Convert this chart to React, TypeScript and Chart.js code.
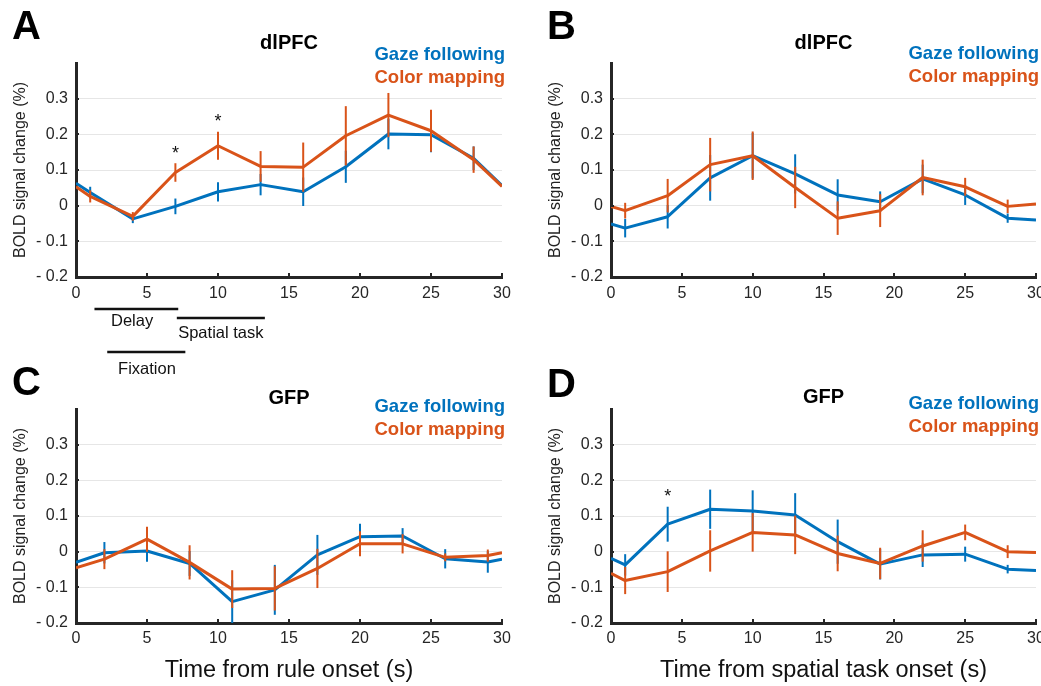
import React, { useEffect, useRef } from 'react';
import { Chart, registerables } from 'chart.js';

Chart.register(...registerables);

const FONT = '"Liberation Sans", Arial, Helvetica, sans-serif';
const BLUE = '#0072BD';
const ORANGE = '#D95319';
const AXIS = '#262626';

// ---- data ----
const seriesNames = ['Gaze following', 'Color mapping'];
const yTicks = [-0.2, -0.1, 0, 0.1, 0.2, 0.3, 0.4];
const yTickLabels = ['- 0.2', '- 0.1', '0', '0.1', '0.2', '0.3', ''];
const xTicks = [0, 5, 10, 15, 20, 25, 30];
const xTickLabels = ['0', '5', '10', '15', '20', '25', '30'];

// Panel A: dlPFC, rule onset
const timesA = [0, 1, 4, 7, 10, 13, 16, 19, 22, 25, 28, 30];
const gazeA = [0.063, 0.037, -0.037, -0.002, 0.039, 0.059, 0.039, 0.109, 0.201, 0.199, 0.133, 0.056];
const gazeErrA = [null, 0.016, 0.012, 0.022, 0.027, 0.03, 0.04, 0.045, 0.043, 0.049, 0.033, null];
const colorA = [0.053, 0.026, -0.03, 0.093, 0.168, 0.11, 0.108, 0.196, 0.254, 0.21, 0.129, 0.054];
const colorErrA = [null, 0.017, 0.012, 0.026, 0.039, 0.043, 0.069, 0.083, 0.062, 0.059, 0.037, null];
const starsAx = [7, 10];
const starsAy = [0.16, 0.248];

// Panel B: dlPFC, spatial task onset
const timesB = [0, 1, 4, 7, 10, 13, 16, 19, 22, 25, 28, 30];
const gazeB = [-0.051, -0.063, -0.031, 0.078, 0.14, 0.089, 0.03, 0.011, 0.075, 0.03, -0.035, -0.04];
const gazeErrB = [null, 0.026, 0.033, 0.064, 0.064, 0.055, 0.044, 0.029, 0.04, 0.028, 0.013, null];
const colorB = [-0.002, -0.014, 0.028, 0.115, 0.14, 0.051, -0.035, -0.014, 0.079, 0.053, -0.002, 0.005];
const colorErrB = [null, 0.022, 0.047, 0.075, 0.068, 0.058, 0.047, 0.046, 0.05, 0.025, 0.019, null];

// Panel C: GFP, rule onset
const timesC = [0, 2, 5, 8, 11, 14, 17, 20, 23, 26, 29, 30];
const gazeC = [-0.03, -0.003, 0.002, -0.033, -0.14, -0.107, -0.009, 0.042, 0.044, -0.02, -0.029, -0.021];
const gazeErrC = [null, 0.03, 0.03, 0.035, 0.06, 0.07, 0.056, 0.036, 0.022, 0.027, 0.03, null];
const colorC = [-0.045, -0.021, 0.035, -0.03, -0.105, -0.103, -0.047, 0.022, 0.022, -0.016, -0.011, -0.003];
const colorErrC = [null, 0.028, 0.035, 0.048, 0.053, 0.062, 0.055, 0.035, 0.027, 0.011, 0.017, null];

// Panel D: GFP, spatial task onset
const timesD = [0, 1, 4, 7, 10, 13, 16, 19, 22, 25, 28, 30];
const gazeD = [-0.019, -0.037, 0.077, 0.119, 0.114, 0.103, 0.028, -0.035, -0.009, -0.007, -0.049, -0.053];
const gazeErrD = [null, 0.03, 0.049, 0.055, 0.058, 0.061, 0.062, 0.043, 0.034, 0.021, 0.012, null];
const colorD = [-0.061, -0.081, -0.056, 0.002, 0.054, 0.047, -0.005, -0.033, 0.016, 0.054, 0, -0.002];
const colorErrD = [null, 0.038, 0.057, 0.058, 0.054, 0.054, 0.05, 0.044, 0.044, 0.022, 0.018, null];
const starsDx = [4];
const starsDy = [0.166];

// Trial phases shown under panel A (seconds)
const phaseLabels = ['Delay', 'Spatial task', 'Fixation'];
const phaseStart = [1.3, 7.1, 2.2];
const phaseEnd = [7.2, 13.3, 7.7];
const phaseLabelX = [3.95, 10.2, 5.0];

type PanelCfg = {
  letter: string;
  title: string;
  left: number;
  top: number;
  width: number;
  height: number;
  padTop: number;
  padRight: number;
  xAxisHeight: number;
  times: number[];
  gaze: number[];
  gazeErr: (number | null)[];
  color: number[];
  colorErr: (number | null)[];
  starsX: number[];
  starsY: number[];
  xTitle?: string;
  titleY: number;
  legendY: number;
  letterY: number;
  phases?: boolean;
  tickPad: number;
};

const panels: PanelCfg[] = [
  {
    letter: 'A', title: 'dlPFC', left: 0, top: 0, width: 520, height: 385,
    padTop: 63, padRight: 18, xAxisHeight: 108,
    times: timesA, gaze: gazeA, gazeErr: gazeErrA, color: colorA, colorErr: colorErrA,
    starsX: starsAx, starsY: starsAy, titleY: 43, legendY: 55, letterY: 39, phases: true, tickPad: 8,
  },
  {
    letter: 'B', title: 'dlPFC', left: 535, top: 0, width: 506, height: 300,
    padTop: 63, padRight: 5, xAxisHeight: 23,
    times: timesB, gaze: gazeB, gazeErr: gazeErrB, color: colorB, colorErr: colorErrB,
    starsX: [], starsY: [], titleY: 43, legendY: 54, letterY: 39, tickPad: 8,
  },
  {
    letter: 'C', title: 'GFP', left: 0, top: 360, width: 520, height: 326,
    padTop: 49, padRight: 18, xAxisHeight: 63,
    times: timesC, gaze: gazeC, gazeErr: gazeErrC, color: colorC, colorErr: colorErrC,
    starsX: [], starsY: [], xTitle: 'Time from rule onset (s)', titleY: 38, legendY: 47, letterY: 35, tickPad: 7,
  },
  {
    letter: 'D', title: 'GFP', left: 535, top: 360, width: 506, height: 326,
    padTop: 49, padRight: 5, xAxisHeight: 63,
    times: timesD, gaze: gazeD, gazeErr: gazeErrD, color: colorD, colorErr: colorErrD,
    starsX: starsDx, starsY: starsDy, xTitle: 'Time from spatial task onset (s)', titleY: 37, legendY: 44, letterY: 37, tickPad: 7,
  },
];

function buildChart(canvas: HTMLCanvasElement, cfg: PanelCfg) {
  const errs = [cfg.gazeErr, cfg.colorErr];
  const vals = [cfg.gaze, cfg.color];
  const colors = [BLUE, ORANGE];

  const decor = {
    id: 'decor',
    afterDatasetDraw(chart: any, args: any) {
      const i = args.index;
      const { ctx, chartArea } = chart;
      const xs = chart.scales.x;
      const ys = chart.scales.y;
      ctx.save();
      ctx.beginPath();
      ctx.rect(chartArea.left, chartArea.top, chartArea.right - chartArea.left, chartArea.bottom - chartArea.top);
      ctx.clip();
      ctx.strokeStyle = colors[i];
      ctx.lineWidth = 2;
      cfg.times.forEach((t, j) => {
        const e = errs[i][j];
        if (e == null) return;
        const x = xs.getPixelForValue(t);
        ctx.beginPath();
        ctx.moveTo(x, ys.getPixelForValue(vals[i][j] - e));
        ctx.lineTo(x, ys.getPixelForValue(vals[i][j] + e));
        ctx.stroke();
      });
      ctx.restore();
    },
    afterDraw(chart: any) {
      const { ctx, chartArea } = chart;
      const xs = chart.scales.x;
      const ys = chart.scales.y;
      ctx.save();
      // inward tick marks
      ctx.strokeStyle = AXIS;
      ctx.lineWidth = 2;
      xTicks.forEach((v) => {
        if (v === 0) return;
        const x = Math.round(xs.getPixelForValue(v));
        ctx.beginPath();
        ctx.moveTo(x, chartArea.bottom + 1);
        ctx.lineTo(x, chartArea.bottom - 4);
        ctx.stroke();
      });
      yTicks.forEach((v) => {
        if (v <= -0.15 || v > 0.35) return;
        const y = Math.round(ys.getPixelForValue(v));
        ctx.beginPath();
        ctx.moveTo(chartArea.left - 1, y);
        ctx.lineTo(chartArea.left + 3, y);
        ctx.stroke();
      });

      // panel letter
      ctx.fillStyle = '#000';
      ctx.font = `bold 40px ${FONT}`;
      ctx.textAlign = 'left';
      ctx.textBaseline = 'alphabetic';
      ctx.fillText(cfg.letter, 12, cfg.letterY);

      // title
      ctx.font = `bold 20px ${FONT}`;
      ctx.textAlign = 'center';
      ctx.textBaseline = 'middle';
      ctx.fillText(cfg.title, (chartArea.left + chartArea.right) / 2, cfg.titleY);

      // legend
      ctx.font = `bold 18.5px ${FONT}`;
      ctx.textAlign = 'right';
      seriesNames.forEach((name, i) => {
        ctx.fillStyle = colors[i];
        ctx.fillText(name, chartArea.right + 3, cfg.legendY + i * 23);
      });

      // significance stars
      ctx.fillStyle = '#111';
      ctx.font = `18px ${FONT}`;
      ctx.textAlign = 'center';
      ctx.textBaseline = 'alphabetic';
      cfg.starsX.forEach((sx, k) => {
        ctx.fillText('*', xs.getPixelForValue(sx), ys.getPixelForValue(cfg.starsY[k]) + 10);
      });

      // trial phases
      if (cfg.phases) {
        const lineDy = [32, 41, 75];
        const textDy = [44, 56, 92];
        ctx.strokeStyle = '#111';
        ctx.lineWidth = 2.5;
        ctx.fillStyle = '#111';
        ctx.font = `16.5px ${FONT}`;
        ctx.textBaseline = 'middle';
        ctx.textAlign = 'center';
        phaseLabels.forEach((lab, k) => {
          const yl = chartArea.bottom + lineDy[k];
          ctx.beginPath();
          ctx.moveTo(xs.getPixelForValue(phaseStart[k]), yl);
          ctx.lineTo(xs.getPixelForValue(phaseEnd[k]), yl);
          ctx.stroke();
          ctx.fillText(lab, xs.getPixelForValue(phaseLabelX[k]), chartArea.bottom + textDy[k]);
        });
      }
      ctx.restore();
    },
  };

  return new Chart(canvas, {
    type: 'line',
    data: {
      datasets: [0, 1].map((i) => ({
        label: seriesNames[i],
        data: cfg.times.map((t, j) => ({ x: t, y: vals[i][j] })),
        borderColor: colors[i],
        backgroundColor: colors[i],
        borderWidth: 3,
        pointRadius: 0,
        tension: 0,
        fill: false,
        borderJoinStyle: 'round' as const,
        order: i === 0 ? 1 : 0,
      })),
    },
    options: {
      responsive: false,
      animation: false,
      events: [],
      layout: { padding: { top: cfg.padTop, right: cfg.padRight, left: 0, bottom: 0 } },
      plugins: {
        legend: { display: false },
        title: { display: false },
        tooltip: { enabled: false },
      },
      scales: {
        x: {
          type: 'linear',
          min: 0,
          max: 30,
          afterBuildTicks: (s: any) => {
            s.ticks = xTicks.map((v) => ({ value: v }));
          },
          ticks: {
            callback: (_v: any, i: number) => xTickLabels[i],
            font: { family: FONT, size: 16 },
            color: AXIS,
            padding: cfg.tickPad - 1,
            maxRotation: 0,
            autoSkip: false,
          },
          grid: { display: false, drawTicks: false },
          border: { display: true, color: AXIS, width: 3 },
          title: cfg.xTitle
            ? {
                display: true,
                text: cfg.xTitle,
                font: { family: FONT, size: 23.5 },
                color: '#111',
                padding: { top: 0, bottom: 1 },
              }
            : { display: false },
          afterFit: (s: any) => {
            s.height = cfg.xAxisHeight;
            s.paddingLeft = 0;
            s.paddingRight = 0;
          },
        },
        y: {
          type: 'linear',
          min: -0.2,
          max: 0.4,
          afterBuildTicks: (s: any) => {
            s.ticks = yTicks.map((v) => ({ value: v }));
          },
          ticks: {
            callback: (_v: any, i: number) => yTickLabels[i],
            font: { family: FONT, size: 16 },
            color: AXIS,
            padding: 8,
            autoSkip: false,
          },
          grid: {
            drawTicks: false,
            lineWidth: 1,
            color: (c: any) =>
              c.tick && c.tick.value > -0.15 && c.tick.value < 0.35 ? '#e6e6e6' : 'rgba(0,0,0,0)',
          },
          border: { display: true, color: AXIS, width: 3 },
          title: {
            display: true,
            text: 'BOLD signal change (%)',
            font: { family: FONT, size: 16 },
            color: '#222',
            padding: { top: 11, bottom: 0 },
          },
          afterFit: (s: any) => {
            s.width = 76;
            s.paddingTop = 0;
            s.paddingBottom = 0;
          },
        },
      },
    } as any,
    plugins: [decor],
  });
}

function Panel({ cfg }: { cfg: PanelCfg }) {
  const ref = useRef<HTMLCanvasElement>(null);
  useEffect(() => {
    const chart = buildChart(ref.current as HTMLCanvasElement, cfg);
    return () => chart.destroy();
  }, [cfg]);
  return (
    <canvas
      ref={ref}
      width={cfg.width}
      height={cfg.height}
      style={{ position: 'absolute', left: cfg.left, top: cfg.top, width: cfg.width, height: cfg.height }}
    />
  );
}

export default function App() {
  return (
    <div style={{ position: 'absolute', left: 0, top: 0, width: 1041, height: 686, background: '#fff', overflow: 'hidden' }}>
      {panels.map((p) => (
        <Panel key={p.letter} cfg={p} />
      ))}
    </div>
  );
}
